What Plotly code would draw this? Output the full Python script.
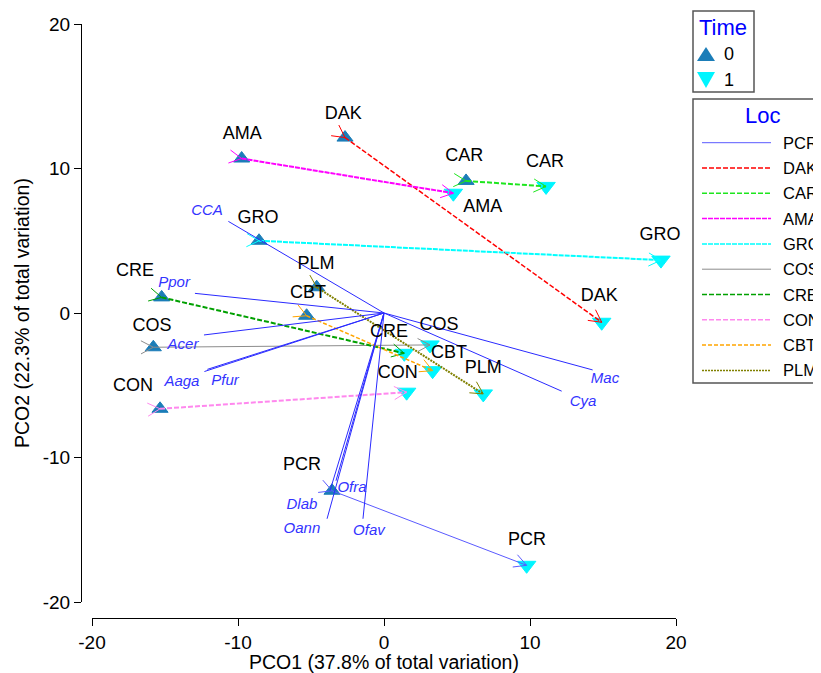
import math
import plotly.graph_objects as go

# ---------------- data ----------------
locs = ["PCR", "DAK", "CAR", "AMA", "GRO", "COS", "CRE", "CON", "CBT", "PLM"]
x0 = [-3.56, -2.67, 5.62, -9.75, -8.56, -15.80, -15.23, -15.34, -5.30, -4.61]
y0 = [-12.30, 12.14, 9.14, 10.69, 5.00, -2.37, 1.08, -6.63, -0.19, 1.78]
x1 = [9.77, 14.91, 11.10, 4.75, 18.97, 3.15, 1.39, 1.55, 3.33, 6.80]
y1 = [-17.46, -0.64, 8.76, 8.29, 3.66, -2.21, -2.79, -5.48, -3.99, -5.60]

lab0_x = [-5.62, -2.79, 5.50, -9.70, -8.63, -15.89, -17.05, -17.19, -5.21, -4.66]
lab0_y = [-10.57, 13.75, 10.83, 12.37, 6.57, -0.90, 2.90, -5.11, 1.38, 3.39]
lab1_x = [9.79, 14.75, 11.03, 6.76, 18.90, 3.77, 0.34, 0.94, 4.45, 6.80]
lab1_y = [-15.76, 1.15, 10.41, 7.30, 5.39, -0.88, -1.33, -4.22, -2.79, -3.87]

species = ["CCA", "Ppor", "Acer", "Aaga", "Pfur", "Mac", "Cya", "Ofra", "Dlab", "Oann", "Ofav"]
vx = [-10.66, -12.95, -12.33, -12.30, -12.10, 14.29, 12.17, -3.29, -3.70, -3.90, -1.44]
vy = [6.34, 1.36, -1.52, -4.05, -3.90, -3.94, -5.41, -11.61, -12.30, -14.24, -14.24]
vlab_x = [-12.12, -14.38, -13.77, -13.84, -10.89, 15.14, 13.63, -2.19, -5.62, -5.62, -1.03]
vlab_y = [7.01, 2.04, -2.25, -4.80, -4.74, -4.60, -6.19, -12.14, -13.31, -14.97, -15.11]

xticks = [-20, -10, 0, 10, 20]
yticks = [-20, -10, 0, 10, 20]
x_title = "PCO1 (37.8% of total variation)"
y_title = "PCO2 (22.3% of total variation)"
time_levels = ["0", "1"]

# ---------------- styles ----------------
loc_color = {"PCR": "#5a5aff", "DAK": "#ff0000", "CAR": "#1ee61e", "AMA": "#ff00ff",
             "GRO": "#00ffff", "COS": "#8c8c8c", "CRE": "#00a000", "CON": "#ff88ee",
             "CBT": "#ffa500", "PLM": "#808000"}
loc_dash = {"PCR": "solid", "DAK": "5px,2px", "CAR": "5px,2px", "AMA": "5px,1px",
            "GRO": "5px,1px", "COS": "solid", "CRE": "5px,2px", "CON": "5px,2px",
            "CBT": "4px,2px", "PLM": "2px,1px"}
loc_width = {"PCR": 1, "DAK": 1.5, "CAR": 2, "AMA": 2, "GRO": 2, "COS": 1,
             "CRE": 2, "CON": 2, "CBT": 1.5, "PLM": 2}
UP_COL = "#1b7db8"
DOWN_COL = "#00f5ff"
VEC_COL = "#2a2aff"
FONT = "Liberation Sans, Arial, sans-serif"

# ---------------- geometry (targets in page pixels) ----------------
OFF = 8  # default page body margin
W_FIG, H_FIG = 821 - OFF, 673 - OFF
PAGE_L, PAGE_T, PAGE_B = 81, 24, 618   # paper edges in page px
PAGE_R = 680
M_L, M_T = PAGE_L - OFF, PAGE_T - OFF
M_B = H_FIG - (PAGE_B - OFF)
M_R = W_FIG - (PAGE_R - OFF)
PW = PAGE_R - PAGE_L
PH = PAGE_B - PAGE_T
X_LEFT_PX, X_RIGHT_PX = 92, 676
Y_BOTTOM_PX = 602
dom_x = [(X_LEFT_PX - PAGE_L) / PW, (X_RIGHT_PX - PAGE_L) / PW]
dom_y = [(PAGE_B - Y_BOTTOM_PX) / PH, 1.0]
SX = (X_RIGHT_PX - X_LEFT_PX) / 40.0
SY = (Y_BOTTOM_PX - PAGE_T) / 40.0


def pxx(p):
    return (p - PAGE_L) / PW


def pxy(p):
    return (PAGE_B - p) / PH


def arms(xa, ya, xb, yb, L=14, ang=28):
    dxp = (xb - xa) * SX
    dyp = (yb - ya) * SY
    n = math.hypot(dxp, dyp)
    ux, uy = dxp / n, dyp / n
    ox, oy = [], []
    for (qx, qy) in [(xa, ya), (xb, yb)]:
        for s in (1, -1):
            a = math.radians(ang * s)
            rx = ux * math.cos(a) - uy * math.sin(a)
            ry = ux * math.sin(a) + uy * math.cos(a)
            ox += [qx - L * rx / SX, qx, None]
            oy += [qy - L * ry / SY, qy, None]
    return ox, oy


fig = go.Figure()

# markers
fig.add_trace(go.Scatter(x=x0, y=y0, mode="markers",
                         marker=dict(symbol="triangle-up", size=14, color=UP_COL,
                                     line=dict(color=UP_COL, width=1)),
                         showlegend=False, hoverinfo="skip"))
fig.add_trace(go.Scatter(x=x1, y=y1, mode="markers",
                         marker=dict(symbol="triangle-down", size=16, color=DOWN_COL,
                                     line=dict(color=DOWN_COL, width=1)),
                         showlegend=False, hoverinfo="skip"))

# trajectories
for i, loc in enumerate(locs):
    fig.add_trace(go.Scatter(x=[x0[i], x1[i]], y=[y0[i], y1[i]], mode="lines",
                             line=dict(color=loc_color[loc], width=loc_width[loc], dash=loc_dash[loc]),
                             showlegend=False, hoverinfo="skip"))
    ax_, ay_ = arms(x0[i], y0[i], x1[i], y1[i])
    fig.add_trace(go.Scatter(x=ax_, y=ay_, mode="lines",
                             line=dict(color=loc_color[loc], width=1),
                             showlegend=False, hoverinfo="skip"))

# vectors
vxs, vys = [], []
for i in range(len(species)):
    vxs += [0, vx[i], None]
    vys += [0, vy[i], None]
fig.add_trace(go.Scatter(x=vxs, y=vys, mode="lines", line=dict(color=VEC_COL, width=1),
                         showlegend=False, hoverinfo="skip"))
fig.add_trace(go.Scatter(x=vlab_x, y=vlab_y, mode="text", text=[f"<i>{s}</i>" for s in species],
                         textfont=dict(family=FONT, size=15, color="#3333ff"),
                         showlegend=False, hoverinfo="skip", cliponaxis=False))

# site labels
fig.add_trace(go.Scatter(x=lab0_x + lab1_x, y=lab0_y + lab1_y, mode="text", text=locs + locs,
                         textfont=dict(family=FONT, size=18, color="black"),
                         showlegend=False, hoverinfo="skip", cliponaxis=False))

shapes = []
annotations = []


def ann(x, y, text, size, color="black", xanchor="center", angle=0):
    annotations.append(dict(x=pxx(x), y=pxy(y), xref="paper", yref="paper", text=text,
                            showarrow=False, textangle=angle, xanchor=xanchor, yanchor="middle",
                            font=dict(family=FONT, size=size, color=color)))


# axis titles
ann(384, 662, x_title, 19.5)
ann(22, 313, y_title, 19.5, angle=-90)

# Time legend box
shapes.append(dict(type="rect", xref="paper", yref="paper", x0=pxx(693), x1=pxx(754),
                   y0=pxy(92), y1=pxy(11), line=dict(color="#555555", width=1.5)))
ann(723, 27, "Time", 22, "#0000ff")


def tri(cx, cy, up, w, h):
    if up:
        pts = [(cx - w / 2, cy + h / 2), (cx + w / 2, cy + h / 2), (cx, cy - h / 2)]
    else:
        pts = [(cx - w / 2, cy - h / 2), (cx + w / 2, cy - h / 2), (cx, cy + h / 2)]
    return "M " + " L ".join(f"{pxx(a):.5f},{pxy(b):.5f}" for a, b in pts) + " Z"


shapes.append(dict(type="path", xref="paper", yref="paper", path=tri(706, 54, True, 18, 14),
                   fillcolor=UP_COL, line=dict(width=0)))
shapes.append(dict(type="path", xref="paper", yref="paper", path=tri(706, 80, False, 18, 16),
                   fillcolor=DOWN_COL, line=dict(width=0)))
for lvl, yy in zip(time_levels, [54, 80]):
    ann(722, yy, lvl, 18, xanchor="left")

# Loc legend box
shapes.append(dict(type="rect", xref="paper", yref="paper", x0=pxx(693), x1=pxx(840),
                   y0=pxy(383), y1=pxy(99), line=dict(color="#555555", width=1.5)))
ann(763, 116, "Loc", 22, "#0000ff")
for i, loc in enumerate(locs):
    yy = 142.7 + i * 25.3
    shapes.append(dict(type="line", xref="paper", yref="paper", x0=pxx(702), x1=pxx(771),
                       y0=pxy(yy), y1=pxy(yy),
                       line=dict(color=loc_color[loc], width=min(loc_width[loc], 1.5) if loc != "PCR" else 1,
                                 dash=loc_dash[loc])))
    ann(781, yy, loc, 16.5, xanchor="left")

fig.update_layout(
    width=W_FIG, height=H_FIG,
    margin=dict(l=M_L, r=M_R, t=M_T, b=M_B, pad=0, autoexpand=False),
    plot_bgcolor="white", paper_bgcolor="white",
    font=dict(family=FONT, size=17, color="black"),
    shapes=shapes, annotations=annotations,
    xaxis=dict(range=[-20, 20], domain=dom_x, anchor="free", position=0, automargin=False,
               showline=True, linecolor="black", linewidth=1, ticks="outside", ticklen=7,
               tickcolor="black", tickvals=xticks, ticktext=[str(t) for t in xticks],
               showgrid=False, zeroline=False, tickfont=dict(family=FONT, size=19)),
    yaxis=dict(range=[-20, 20], domain=dom_y, anchor="free", position=0, automargin=False,
               showline=True, linecolor="black", linewidth=1, ticks="outside", ticklen=7,
               tickcolor="black", tickvals=yticks, ticktext=[str(t) for t in yticks],
               showgrid=False, zeroline=False, tickfont=dict(family=FONT, size=19)),
    showlegend=False,
)

fig.write_html("out.html")
